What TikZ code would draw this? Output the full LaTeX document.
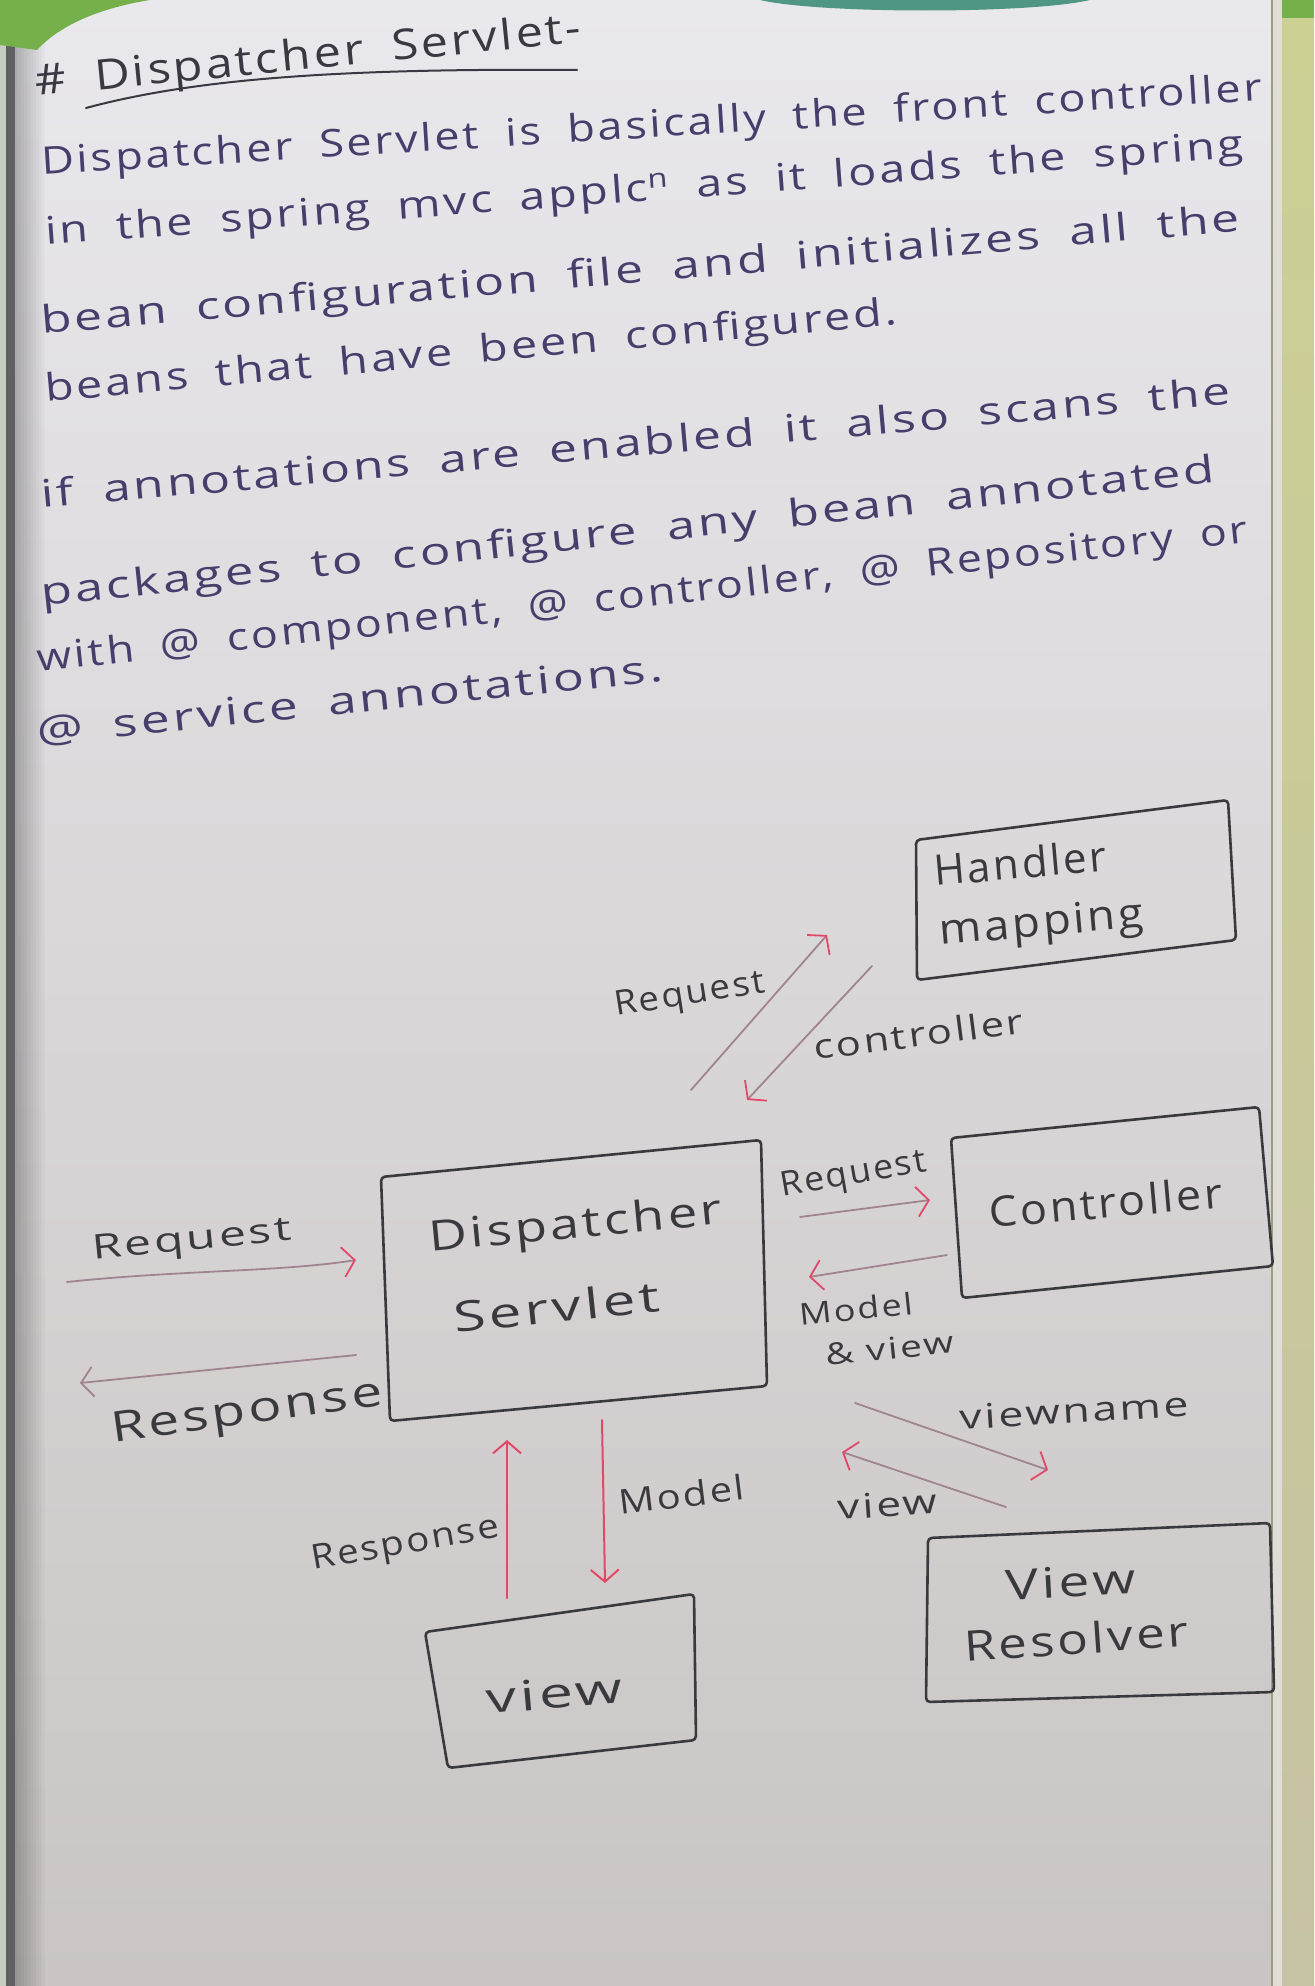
\documentclass[tikz,border=0pt]{standalone}
\usepackage{fontspec}
\usepackage{graphicx}
\setmainfont{Open Sans}
\newfontfamily\handfont[LetterSpace=6]{Open Sans}
\usetikzlibrary{arrows.meta}

\definecolor{pagetop}{RGB}{233,232,236}
\definecolor{pagemid}{RGB}{222,220,223}
\definecolor{pagebot}{RGB}{202,197,196}
\definecolor{noteink}{RGB}{72,62,108}
\definecolor{titleink}{RGB}{58,56,64}
\definecolor{pencil}{RGB}{58,58,62}
\definecolor{redink}{RGB}{226,72,104}
\definecolor{shaft}{RGB}{160,132,144}
\definecolor{leafgreen}{RGB}{118,176,74}
\definecolor{tealtop}{RGB}{80,150,132}
\definecolor{covertop}{RGB}{204,208,146}
\definecolor{coverbot}{RGB}{198,194,164}
\definecolor{leafedge}{RGB}{200,205,196}
\definecolor{binding}{RGB}{96,96,98}

\newcommand\notefont{\handfont\fontsize{19}{19}\selectfont}
\newcommand\headfont{\handfont\fontsize{21}{21}\selectfont}

% scale a single word horizontally to a given width (in pixels of the page)
\newlength\fitlen
\newcommand\fitto[2]{\settowidth\fitlen{#2}\pgfmathsetmacro\fitratio{#1*0.5/\fitlen}\scalebox{\fitratio}[1]{#2}}

% one handwritten line: word nodes chained along a slanted baseline
% #1 font, #2 style, #3 name, #4 x, #5 y, #6 angle, #7 width (px), #8 words
\newlength\hwtot
\newlength\hwsp
\newcommand\hwline[8]{%
  \pgfinterruptpicture
    #1%
    \global\hwtot=0pt
    \settowidth\hwsp{\ }%
    \global\hwsp=1.8\hwsp
    \foreach \w in {#8}{\settowidth\fitlen{\w}\global\advance\hwtot by \fitlen\global\advance\hwtot by \hwsp}%
    \global\advance\hwtot by -\hwsp
  \endpgfinterruptpicture
  \pgfmathsetmacro\hwscale{#7*0.5/\hwtot}%
  \pgfmathsetmacro\hwgap{2*\hwscale*\hwsp}%
  \foreach \w [count=\i, remember=\i as \j (initially 0)] in {#8}{%
    \ifnum\i=1\relax
      \node[#2,rotate=#6] (#3-\i) at (#4,#5) {\scalebox{\hwscale}[1]{\w}};
    \else
      \node[#2,rotate=#6] (#3-\i) at ([shift={(-#6:\hwgap)}]#3-\j.base east) {\scalebox{\hwscale}[1]{\w}};
    \fi}%
}

\begin{document}
\begin{tikzpicture}[x=0.5pt,y=-0.5pt,line cap=round,line join=round,
  note/.style={font=\notefont,text=noteink,inner sep=0pt,anchor=base west},
  heading/.style={note,text=titleink,font=\headfont},
  label/.style={note,text=pencil,font=\handfont\fontsize{17}{17}\selectfont},
  small/.style={note,text=pencil,font=\handfont\fontsize{15}{15}\selectfont},
  boxlabel/.style={note,text=pencil,font=\handfont\fontsize{21}{21}\selectfont},
  box/.style={draw=pencil,line width=1.3pt,rounded corners=2pt},
  flow/.style={draw=shaft,line width=0.9pt,-{Straight Barb[length=6pt,width=15pt,color=redink]}},
  greyflow/.style={draw=shaft,line width=0.9pt,-{Straight Barb[length=6pt,width=15pt]}},
  redflow/.style={draw=redink,line width=1pt,-{Straight Barb[length=6pt,width=14pt]}}]

\useasboundingbox (0,0) rectangle (1314,1986);

% --- notebook page and surroundings ---
\shade[top color=pagetop,middle color=pagemid,bottom color=pagebot] (0,0) rectangle (1314,1986);
\fill[leafedge] (0,0) rectangle (6,1986);
\fill[binding] (6,0) rectangle (15,1986);
\foreach \i [evaluate=\i as \op using 0.25-0.025*\i] in {0,...,9}
  \fill[black,opacity=\op] (15+3*\i,0) rectangle (18+3*\i,1986);
\fill[leafgreen] (0,0) -- (0,45) -- (37,50) .. controls (60,25) and (100,8) .. (150,0) -- cycle;
\fill[tealtop] (760,0) .. controls (820,14) and (1030,14) .. (1090,0) -- cycle;
\fill[pagetop!70!coverbot] (1272,0) rectangle (1282,1986);
\draw[coverbot!80!black,line width=0.8pt] (1272,0) -- (1272,1986);
\shade[top color=covertop,bottom color=coverbot] (1282,0) rectangle (1314,1986);
\fill[leafgreen] (1282,0) rectangle (1314,18);

% --- heading ---
\hwline{\headfont}{heading}{title}{36}{96}{5.6}{547}{\#,Dispatcher,Servlet-}
\draw[titleink,line width=1pt] (86,108) .. controls (190,80) and (330,68) .. (577,70);

% --- notes ---
\hwline{\notefont}{note}{la}{42}{175}{3.5}{1218}{Dispatcher,Servlet,is,basically,the,front,controller}
\hwline{\notefont}{note}{lb}{46}{245}{4.2}{1194}{in,the,spring,mvc,applc\textsuperscript{n},as,it,loads,the,spring}
\hwline{\notefont}{note}{lc}{42}{334}{4.9}{1198}{bean,configuration,file,and,initializes,all,the}
\hwline{\notefont}{note}{ld}{46}{402}{5.2}{852}{beans,that,have,been,configured.}
\hwline{\notefont}{note}{le}{42}{508}{5.0}{1188}{if,annotations,are,enabled,it,also,scans,the}
\hwline{\notefont}{note}{lf}{42}{606}{6.0}{1176}{packages,to,configure,any,bean,annotated}
\hwline{\notefont}{note}{lg}{38}{672}{6.1}{1212}{with,@,{component,},@,{controller,},@,Repository,or}
\hwline{\notefont}{note}{lh}{38}{745}{5.8}{627}{@,service,annotations.}

% --- Handler Mapping ---
\coordinate (hm1) at (916,840); \coordinate (hm2) at (1228,800);
\coordinate (hm3) at (1236,940); \coordinate (hm4) at (917,980);
\draw[box] (hm1) -- (hm2) -- (hm3) -- (hm4) -- cycle;
\node[boxlabel,rotate=5] (hmA) at (935,886) {\fitto{173}{Handler}};
\node[boxlabel,rotate=5] (hmB) at (940,945) {\fitto{205}{mapping}};

% --- Dispatcher Servlet ---
\coordinate (ds1) at (381,1177); \coordinate (ds2) at (761,1140);
\coordinate (ds3) at (767,1386); \coordinate (ds4) at (390,1421);
\draw[box] (ds1) -- (ds2) -- (ds3) -- (ds4) -- cycle;
\node[boxlabel,rotate=5.5] (dsA) at (430,1252) {\fitto{294}{Dispatcher}};
\node[boxlabel,rotate=6] (dsB) at (455,1333) {\fitto{207}{Servlet}};

% --- Controller ---
\coordinate (ct1) at (951,1138); \coordinate (ct2) at (1259,1107);
\coordinate (ct3) at (1273,1266); \coordinate (ct4) at (962,1298);
\draw[box] (ct1) -- (ct2) -- (ct3) -- (ct4) -- cycle;
\node[boxlabel,rotate=5] (ctA) at (990,1228) {\fitto{234}{Controller}};

% --- View ---
\coordinate (vw1) at (425,1632); \coordinate (vw2) at (694,1594);
\coordinate (vw3) at (696,1740); \coordinate (vw4) at (448,1768);
\draw[box] (vw1) -- (vw2) -- (vw3) -- (vw4) -- cycle;
\node[boxlabel,rotate=5] (vwA) at (487,1714) {\fitto{137}{view}};

% --- View Resolver ---
\coordinate (vr1) at (928,1538); \coordinate (vr2) at (1270,1523);
\coordinate (vr3) at (1274,1692); \coordinate (vr4) at (926,1702);
\draw[box] (vr1) -- (vr2) -- (vr3) -- (vr4) -- cycle;
\node[boxlabel,rotate=3] (vrA) at (1006,1600) {\fitto{130}{View}};
\node[boxlabel,rotate=4] (vrB) at (965,1662) {\fitto{225}{Resolver}};

% --- connectors ---
\coordinate (hmIn) at (827,935);  \coordinate (dsOutH) at (691,1090);
\coordinate (hmOut) at (872,966); \coordinate (dsInH) at (747,1100);
\draw[flow] (dsOutH) -- (hmIn);
\draw[flow] (hmOut) -- (dsInH);
\node[label,rotate=9] (rqH) at (616,1016) {\fitto{152}{Request}};
\node[label,rotate=7.3] (ctH) at (815,1060) {\fitto{211}{controller}};

\coordinate (clientIn) at (67,1282);   \coordinate (dsIn) at (356,1260);
\coordinate (dsOut) at (356,1355);     \coordinate (clientOut) at (80,1383);
\draw[flow] (clientIn) .. controls (180,1270) and (280,1272) .. (dsIn);
\draw[greyflow] (dsOut) -- (clientOut);
\node[label,rotate=5.7] (rqL) at (93,1260) {\fitto{200}{Request}};
\node[boxlabel,rotate=8] (rsL) at (113,1443) {\fitto{273}{Response}};

\coordinate (dsToC) at (800,1217);  \coordinate (ctIn) at (930,1200);
\coordinate (ctOut) at (947,1255);  \coordinate (dsFromC) at (809,1277);
\draw[flow] (dsToC) -- (ctIn);
\draw[flow] (ctOut) -- (dsFromC);
\node[label,rotate=10] (rqC) at (782,1197) {\fitto{148}{Request}};
\node[small,rotate=6] (mvA) at (800,1326) {\fitto{114}{Model}};
\node[small,rotate=6] (mvB) at (826,1366) {\fitto{129}{\& view}};

\coordinate (dsToR) at (855,1403);  \coordinate (vrIn) at (1048,1470);
\coordinate (vrOut) at (1006,1507); \coordinate (dsFromR) at (842,1452);
\draw[flow] (dsToR) -- (vrIn);
\draw[flow] (vrOut) -- (dsFromR);
\node[label,rotate=3.5] (vnL) at (960,1430) {\fitto{230}{viewname}};
\node[label,rotate=4] (vwL) at (838,1520) {\fitto{100}{view}};

\coordinate (vwOut) at (507,1598); \coordinate (dsFromV) at (507,1440);
\coordinate (dsToV) at (602,1420); \coordinate (vwIn) at (605,1583);
\draw[redflow] (vwOut) -- (dsFromV);
\draw[redflow] (dsToV) -- (vwIn);
\node[label,rotate=10] (rsV) at (313,1570) {\fitto{190}{Response}};
\node[label,rotate=7] (mdV) at (620,1515) {\fitto{126}{Model}};

\end{tikzpicture}
\end{document}
